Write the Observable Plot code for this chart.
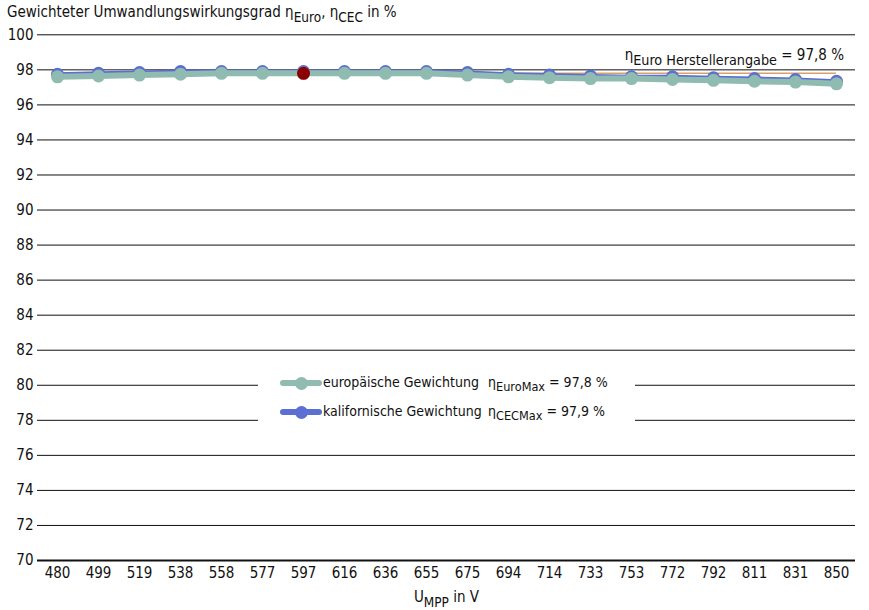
<!DOCTYPE html>
<html>
<head>
<meta charset="utf-8">
<script src="https://cdn.jsdelivr.net/npm/d3@7"></script>
<script src="https://cdn.jsdelivr.net/npm/@observablehq/plot@0.6"></script>
<style>
  html, body { margin: 0; padding: 0; background: #fff; }
  #wrap { position: relative; width: 869px; height: 610px; overflow: hidden;
    font-family: "Liberation Sans Narrow", "DejaVu Sans Condensed", "Liberation Sans", sans-serif; color: #111; }
  #title { position: absolute; left: 7px; top: 3px; height: 23px; font-size: 15px; white-space: nowrap; }
  sub { font-size: 0.9em; vertical-align: -0.35em; line-height: 0; }
  #chart { position: absolute; left: 0; top: 26px; }
  #xlabel { position: absolute; left: 0; width: 893px; top: 588px; text-align: center; font-size: 15px; }
  #note { position: absolute; right: 25px; top: 46px; font-size: 15px; white-space: nowrap; }
  #note sub { font-size: 0.95em; }
  #legend { position: absolute; left: 258px; top: 368px; width: 377px; height: 62px; background: #fff; }
  .row { position: absolute; left: 0; width: 377px; height: 20px; font-size: 14px; white-space: nowrap; }
  .sample { position: absolute; left: 22px; top: 0; width: 42px; height: 20px; }
  .sample .ln { position: absolute; left: 0; right: 0; top: 7px; height: 6px; border-radius: 3px; }
  .sample .pt { position: absolute; left: 14.5px; top: 3.5px; width: 13px; height: 13px; border-radius: 50%; }
  .name { position: absolute; left: 65px; top: 1px; }
  .eta { position: absolute; left: 230px; top: 1px; }
</style>
</head>
<body>
<div id="wrap">
  <div id="title">Gewichteter Umwandlungswirkungsgrad η<sub>Euro</sub>, η<sub>CEC</sub> in %</div>
  <div id="chart"></div>
  <div id="note">η<sub>Euro Herstellerangabe</sub> = 97,8 %</div>
  <div id="legend"></div>
  <div id="xlabel">U<sub>MPP</sub> in V</div>
</div>
<script>
// ---- data ----
const voltages = [480, 499, 519, 538, 558, 577, 597, 616, 636, 655, 675, 694, 714, 733, 753, 772, 792, 811, 831, 850];
const euroValues = [97.6, 97.65, 97.7, 97.75, 97.8, 97.8, 97.8, 97.8, 97.8, 97.8, 97.7, 97.6, 97.55, 97.5, 97.5, 97.45, 97.4, 97.35, 97.3, 97.2];
const cecValues  = [97.75, 97.8, 97.85, 97.9, 97.9, 97.9, 97.9, 97.9, 97.9, 97.9, 97.85, 97.75, 97.7, 97.65, 97.6, 97.6, 97.55, 97.5, 97.45, 97.35];
const euroMaxVoltage = 597;
const euroMax = 97.8;
const cecMax = 97.9;
const manufacturerEuro = 97.8;
const yTicks = [70, 72, 74, 76, 78, 80, 82, 84, 86, 88, 90, 92, 94, 96, 98, 100];
const seriesNames = ["europäische Gewichtung", "kalifornische Gewichtung"];
const maxLabels = ["EuroMax", "CECMax"];
const maxValues = [euroMax, cecMax];

const colors = { euro: "#8fbbb0", cec: "#5b6fd2", max: "#8b0000", maker: "#d9a06e" };

const euro = voltages.map((v, i) => ({ v, y: euroValues[i] }));
const cec = voltages.map((v, i) => ({ v, y: cecValues[i] }));
const fmt = d => d.toFixed(1).replace(".", ",");

const chart = Plot.plot({
  width: 869,
  height: 584,
  marginTop: 8.3,
  marginBottom: 50,
  marginLeft: 37,
  marginRight: 14,
  style: { fontFamily: "'Liberation Sans Narrow', 'DejaVu Sans Condensed', 'Liberation Sans', sans-serif", fontSize: "15px", color: "#111", background: "transparent" },
  x: { type: "point", domain: voltages, padding: 0.323, label: null },
  y: { domain: [70, 100], ticks: yTicks, label: null },
  marks: [
    Plot.ruleY(yTicks.filter(t => t !== 70), { stroke: "#111", strokeWidth: 1 }),
    Plot.ruleY([70], { stroke: "#111", strokeWidth: 2 }),
    Plot.axisY({ ticks: yTicks, tickSize: 0, tickPadding: 4, label: null, fill: "#111" }),
    Plot.axisX({ tickSize: 0, tickPadding: 7, label: null, fill: "#111", tickFormat: d => String(d) }),
    Plot.ruleY([manufacturerEuro], { x1: voltages[0], x2: voltages[voltages.length - 1], stroke: colors.maker, strokeWidth: 1.5 }),
    Plot.line(cec, { x: "v", y: "y", stroke: colors.cec, strokeWidth: 4 }),
    Plot.dot(cec, { x: "v", y: "y", r: 6.5, fill: colors.cec }),
    Plot.line(euro, { x: "v", y: "y", stroke: colors.euro, strokeWidth: 6 }),
    Plot.dot(euro, { x: "v", y: "y", r: 6.5, fill: colors.euro }),
    Plot.dot([{ v: euroMaxVoltage, y: euroMax }], { x: "v", y: "y", r: 6.5, fill: colors.max })
  ]
});
document.getElementById("chart").appendChild(chart);

// legend
const legend = document.getElementById("legend");
const legendColors = [colors.euro, colors.cec];
seriesNames.forEach((name, i) => {
  const row = document.createElement("div");
  row.className = "row";
  row.style.top = (i === 0 ? 5 : 34) + "px";
  row.innerHTML = `<div class="sample"><div class="ln" style="background:${legendColors[i]}"></div><div class="pt" style="background:${legendColors[i]}"></div></div>` +
    `<span class="name">${name}</span>` +
    `<span class="eta">η<sub>${maxLabels[i]}</sub> = ${fmt(maxValues[i])} %</span>`;
  legend.appendChild(row);
});
</script>
</body>
</html>
